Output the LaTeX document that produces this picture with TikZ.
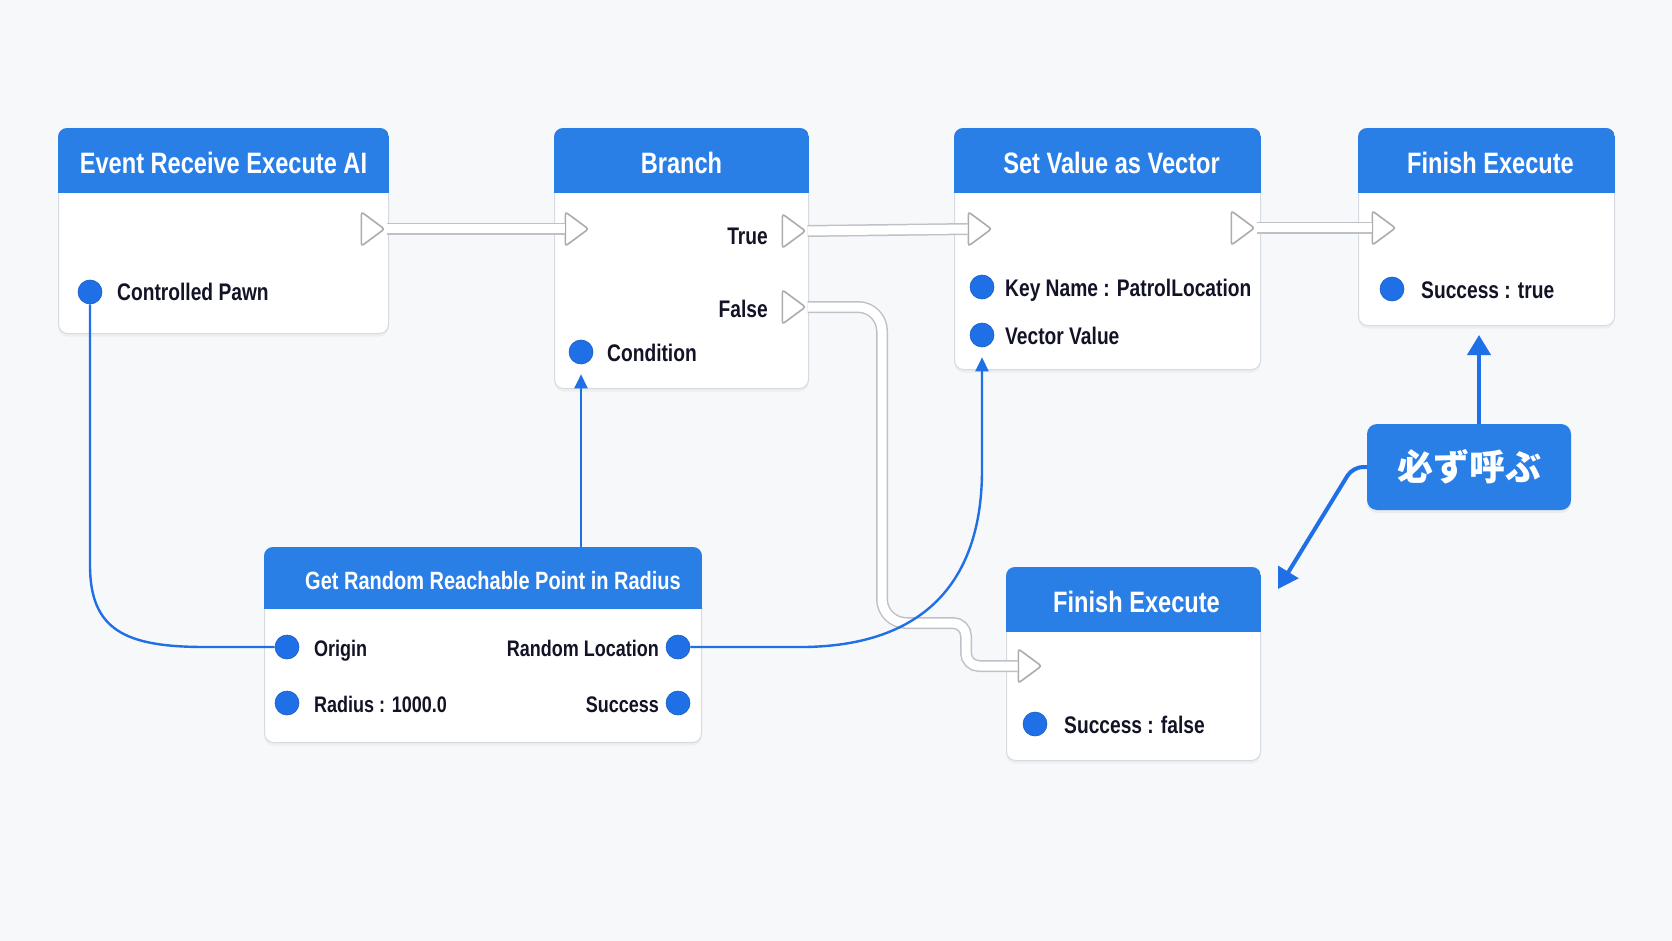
\documentclass[tikz,border=0pt]{standalone}
\usepackage{fontspec}
\setmainfont{Liberation Sans}[FakeStretch=0.8]
\newfontfamily\jpfont{Noto Sans CJK JP}
\usetikzlibrary{shapes.geometric,shadows,arrows.meta}

\definecolor{bgcol}{RGB}{247,248,250}
\definecolor{headblue}{RGB}{42,127,231}
\definecolor{pinblue}{RGB}{31,111,230}
\definecolor{edgegray}{RGB}{214,218,225}
\definecolor{ink}{RGB}{18,20,38}
\definecolor{wiregray}{RGB}{190,193,199}

\tikzstyle{box} = [draw=edgegray, fill=white, rounded corners=9pt, line width=1pt, inner sep=0, anchor=north west, drop shadow={shadow xshift=0pt, shadow yshift=-3pt, opacity=0.08}]
\tikzstyle{headtxt} = [font={\fontsize{29.5}{32}\selectfont\bfseries}, text=white, inner sep=0]
\tikzstyle{lbl} = [font={\fontsize{24}{28}\selectfont\bfseries}, text=ink, inner sep=0, text height=17pt, text depth=0pt]
\tikzstyle{lbls} = [lbl, font={\fontsize{22.5}{26}\selectfont\bfseries}, text height=16pt]
\tikzstyle{dpin} = [circle, fill=pinblue, draw=pinblue!85!black, line width=0.6pt, minimum size=24pt, inner sep=0]
\tikzstyle{xpin} = [isosceles triangle, isosceles triangle stretches, minimum width=34pt, minimum height=23pt, inner sep=0, draw=gray!65, fill=white, line width=1.6pt, rounded corners=2.5pt]
\tikzstyle{xwire} = [draw=wiregray, line width=1.5pt, double=white, double distance=9pt]
\tikzstyle{dwire} = [draw=pinblue, line width=2.4pt]
\tikzstyle{bigarrow} = [draw=pinblue, line width=4pt, -{Triangle[length=20pt,width=23pt]}]
\tikzstyle{callbox} = [fill=headblue, rounded corners=10pt, minimum width=204pt, minimum height=86pt, text=white, drop shadow={shadow xshift=0pt, shadow yshift=-3pt, opacity=0.10}]

% blue title strip on top of a box
\newcommand{\nodehead}[2]{%
  \begin{scope}
    \clip[rounded corners=9pt] (#1.south west) rectangle (#1.north east);
    \fill[headblue] (#1.north west) rectangle ([yshift=-#2]#1.north east);
  \end{scope}}

\begin{document}
\begin{tikzpicture}[x=1pt, y=-1pt]

\useasboundingbox (0,0) rectangle (1672,941);
\fill[bgcol] (0,0) rectangle (1672,941);

% boxes
\node[box, minimum width=330pt, minimum height=205pt] (evt) at (58,128) {};
\nodehead{evt}{65pt}
\node[headtxt] (evt-t) at ([yshift=-35pt]evt.north) {Event Receive Execute AI};

\node[box, minimum width=254pt, minimum height=260pt] (br) at (554,128) {};
\nodehead{br}{65pt}
\node[headtxt] (br-t) at ([yshift=-35pt]br.north) {Branch};

\node[box, minimum width=306pt, minimum height=241pt] (sv) at (954,128) {};
\nodehead{sv}{65pt}
\node[headtxt] (sv-t) at ([xshift=4pt,yshift=-35pt]sv.north) {Set Value as Vector};

\node[box, minimum width=256pt, minimum height=197pt] (ft) at (1358,128) {};
\nodehead{ft}{65pt}
\node[headtxt] (ft-t) at ([xshift=4pt,yshift=-35pt]ft.north) {Finish Execute};

\node[box, minimum width=437pt, minimum height=195pt] (grr) at (264,547) {};
\nodehead{grr}{62pt}
\node[headtxt, font={\fontsize{25}{28}\selectfont\bfseries}] (grr-t) at ([xshift=10pt,yshift=-34pt]grr.north) {Get Random Reachable Point in Radius};

\node[box, minimum width=254pt, minimum height=193pt] (fb) at (1006,567) {};
\nodehead{fb}{65pt}
\node[headtxt] (fb-t) at ([xshift=3pt,yshift=-35pt]fb.north) {Finish Execute};

\node[callbox] (must) at (1469,467) {\jpfont\bfseries\fontsize{36}{40}\selectfont 必ず呼ぶ};

% pins
\node[xpin] (evt-o) at (370,229) {};
\node[dpin] (pawn) at (90,292) {};
\node[lbl, anchor=west] (pawn-l) at (117,292) {Controlled Pawn};

\node[xpin] (br-i) at (574,229) {};
\node[xpin] (br-tr) at (791,231) {};
\node[lbl, anchor=east] (true-l) at (768,236) {True};
\node[xpin] (br-f) at (791,307) {};
\node[lbl, anchor=east] (false-l) at (768,309) {False};
\node[dpin] (cond) at (581,352) {};
\node[lbl, anchor=west] (cond-l) at (607,353) {Condition};

\node[xpin] (sv-i) at (977,229) {};
\node[xpin] (sv-o) at (1240,228) {};
\node[dpin] (key) at (982,287) {};
\node[lbl, anchor=west] (key-l) at (1005,288) {Key Name : PatrolLocation};
\node[dpin] (vec) at (982,335) {};
\node[lbl, anchor=west] (vec-l) at (1005,336) {Vector Value};

\node[xpin] (ft-i) at (1381,228) {};
\node[dpin] (okt) at (1392,289) {};
\node[lbl, anchor=west] (okt-l) at (1421,290) {Success : true};

\node[dpin] (orig) at (287,647) {};
\node[lbls, anchor=west] (orig-l) at (314,648) {Origin};
\node[dpin] (rad) at (287,703) {};
\node[lbls, anchor=west] (rad-l) at (314,704) {Radius : 1000.0};
\node[dpin] (rloc) at (678,647) {};
\node[lbls, anchor=east] (rloc-l) at (659,648) {Random Location};
\node[dpin] (succ) at (678,703) {};
\node[lbls, anchor=east] (succ-l) at (659,704) {Success};

\node[xpin] (fb-i) at (1027,666) {};
\node[dpin] (okf) at (1035,724) {};
\node[lbl, anchor=west] (okf-l) at (1064,725) {Success : false};

% exec wires
\draw[xwire] (evt-o.east) -- (br-i.west);
\draw[xwire] (br-tr.east) -- (sv-i.west);
\draw[xwire] (sv-o.east) -- (ft-i.west);
\draw[xwire, rounded corners=24pt] (br-f.east) -- (882,307) -- (882,623) [rounded corners=13pt] -- (966,623) -- (966,666) -- (fb-i.west);

% data wires
\draw[dwire] (pawn.south) -- (90,565) .. controls (90,630) and (125,647) .. (205,647) -- (orig.west);
\draw[dwire, -{Triangle[length=14pt,width=13pt]}, shorten >=10pt] (rloc.east) -- (805,647) .. controls (935,645) and (982,570) .. (982,470) -- (vec.south);
\draw[dwire, -{Triangle[length=14pt,width=13pt]}, shorten >=10pt] (cond.south |- grr.north) -- (cond.south);

% callout arrows
\coordinate (must-up) at ([xshift=10pt]must.north);
\coordinate (fb-tip) at ([xshift=17pt,yshift=-22pt]fb.north east);
\draw[bigarrow, shorten >=9pt] (must-up) -- (must-up |- ft.south);
\draw[bigarrow, rounded corners=10pt] (must.west) -- ++(-14,0) -- (fb-tip);

\end{tikzpicture}
\end{document}
